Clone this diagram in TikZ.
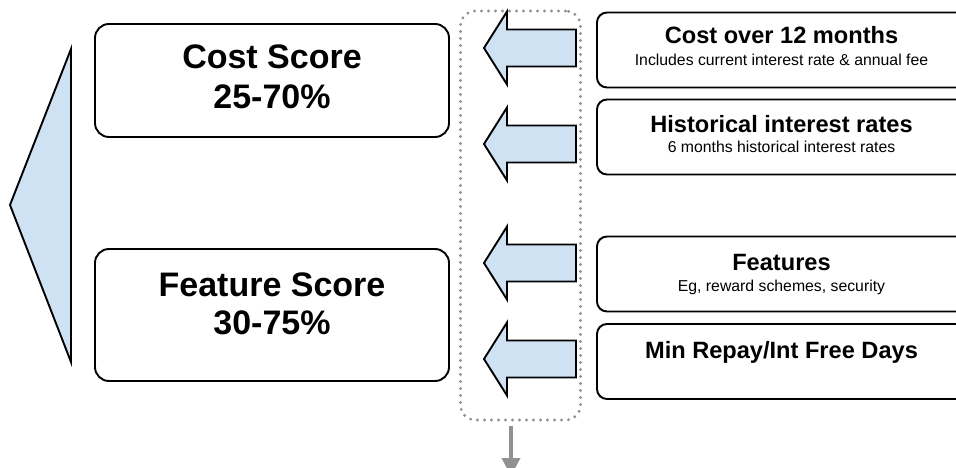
\documentclass[tikz,border=0pt]{standalone}
\usepackage{fontspec}
\setmainfont{Liberation Sans}
\usetikzlibrary{arrows.meta}
\definecolor{paleblue}{RGB}{207,226,243}
\definecolor{dotgray}{RGB}{145,145,145}
\tikzset{
  scorebox/.style={draw,line width=1.9pt,rounded corners=14pt,minimum width=354pt,inner sep=0pt},
  factorbox/.style={draw,line width=1.9pt,rounded corners=10pt,minimum width=369pt,minimum height=75pt,inner sep=0pt},
  groupframe/.style={draw=dotgray,line width=3.2pt,line cap=round,dash pattern=on 0pt off 7pt,rounded corners=15pt,minimum width=120pt,minimum height=409pt,inner sep=0pt},
  scoretext/.style={font=\fontsize{34}{40}\selectfont\bfseries,anchor=base,inner sep=0pt},
  headtext/.style={font=\fontsize{23.6}{28}\selectfont\bfseries,anchor=base,inner sep=0pt},
  subtext/.style={font=\fontsize{15.8}{19}\selectfont,anchor=base,inner sep=0pt},
  blockarrow/.style={draw,fill=paleblue,line width=1.9pt,line join=miter},
}
\begin{document}
\begin{tikzpicture}[x=1pt,y=-1pt]
        \useasboundingbox (0,0) rectangle (956,468);
        % total score wedge
        \draw[blockarrow] (71,49) -- (71,362) -- (10,205) -- cycle;
        % score boxes
        \node[scorebox,minimum height=113pt] (cost) at (272,80.5) {};
        \node[scoretext] (costname) at (272,69) {Cost Score};
        \node[scoretext] (costrange) at (272,109) {25-70\%};
        \node[scorebox,minimum height=132pt] (feature) at (272,315) {};
        \node[scoretext] (featurename) at (272,296) {Feature Score};
        \node[scoretext] (featurerange) at (272,334) {30-75\%};
        % inputs
        \node[factorbox] (costyear) at (781.5,50) {};
        \node[headtext] (costyearhead) at (781.5,44) {Cost over 12 months};
        \node[subtext] (costyearsub) at (781.5,66) {Includes current interest rate \& annual fee};
        \node[factorbox] (history) at (781.5,137) {};
        \node[headtext] (historyhead) at (781.5,133) {Historical interest rates};
        \node[subtext] (historysub) at (781.5,153) {6 months historical interest rates};
        \node[factorbox] (features) at (781.5,274) {};
        \node[headtext] (featureshead) at (781.5,270) {Features};
        \node[subtext] (featuressub) at (781.5,291) {Eg, reward schemes, security};
        \node[factorbox] (repay) at (781.5,361.5) {};
        \node[headtext] (repayhead) at (781.5,358) {Min Repay/Int Free Days};
        % block arrows
        \foreach \y in {48,144,263,359}
          \draw[blockarrow] (484,\y) -- (507,{\y-36.5}) -- (507,{\y-18.5}) -- (576,{\y-18.5})
            -- (576,{\y+18.5}) -- (507,{\y+18.5}) -- (507,{\y+36.5}) -- cycle;
        % dotted group and output
        \node[groupframe] (inputs) at (520.5,215.5) {};
        \coordinate (out) at (511,476);
        \draw[dotgray,line width=3.6pt,-{Triangle[length=18pt,width=18pt]}] ([yshift=-4pt]out |- inputs.south) -- (out);
\end{tikzpicture}
\end{document}
